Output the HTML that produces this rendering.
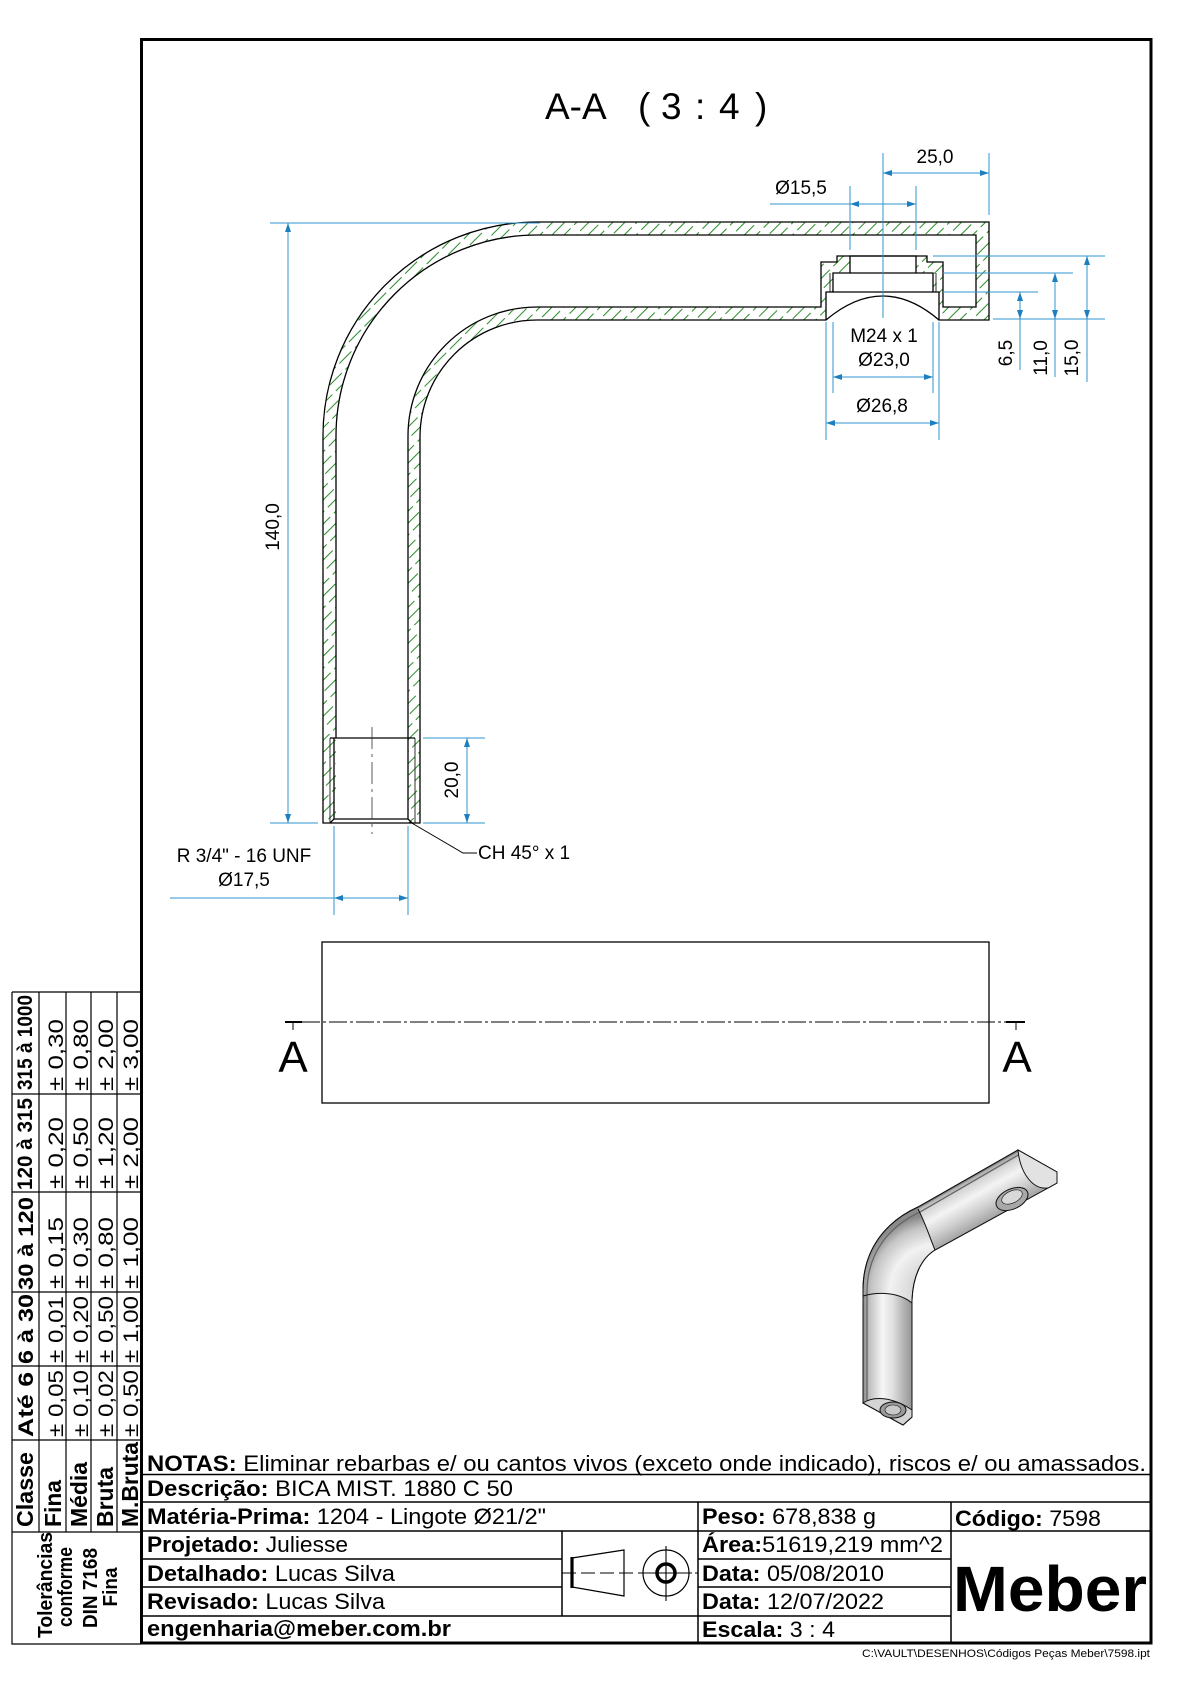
<!DOCTYPE html>
<html><head><meta charset="utf-8">
<style>
html,body{margin:0;padding:0;background:#fff;}
svg{display:block;}
</style></head>
<body>
<svg width="1190" height="1684" viewBox="0 0 1190 1684" xmlns="http://www.w3.org/2000/svg" font-family="'Liberation Sans', Arial, sans-serif">
<defs>
  <pattern id="h" patternUnits="userSpaceOnUse" width="8.5" height="22" patternTransform="rotate(45)">
    <line x1="4" y1="0" x2="4" y2="17" stroke="#2f8f2f" stroke-width="1.05"/>
  </pattern>
  <linearGradient id="gv" x1="0" y1="0" x2="1" y2="0">
    <stop offset="0" stop-color="#8a8a8a"/>
    <stop offset="0.15" stop-color="#c4c4c4"/>
    <stop offset="0.4" stop-color="#f6f6f6"/>
    <stop offset="0.6" stop-color="#e0e0e0"/>
    <stop offset="0.85" stop-color="#b0b0b0"/>
    <stop offset="1" stop-color="#959595"/>
  </linearGradient>
  <linearGradient id="gh" gradientUnits="userSpaceOnUse" x1="968" y1="1178" x2="991" y2="1219">
    <stop offset="0" stop-color="#9a9a9a"/>
    <stop offset="0.15" stop-color="#d4d4d4"/>
    <stop offset="0.4" stop-color="#f4f4f4"/>
    <stop offset="0.7" stop-color="#d0d0d0"/>
    <stop offset="1" stop-color="#a4a4a4"/>
  </linearGradient>
  <radialGradient id="gb" gradientUnits="userSpaceOnUse" cx="935" cy="1290" r="75">
    <stop offset="0" stop-color="#b0b0b0"/>
    <stop offset="0.35" stop-color="#dcdcdc"/>
    <stop offset="0.6" stop-color="#f2f2f2"/>
    <stop offset="0.85" stop-color="#c4c4c4"/>
    <stop offset="1" stop-color="#8a8a8a"/>
  </radialGradient>
</defs>

<!-- Frame -->
<rect x="141.5" y="39.5" width="1009.5" height="1603.5" fill="none" stroke="#000" stroke-width="3"/>

<!-- Title -->
<text y="119" font-size="37"><tspan x="545">A-A</tspan><tspan x="638">(</tspan><tspan x="661">3</tspan><tspan x="695">:</tspan><tspan x="719">4</tspan><tspan x="755">)</tspan></text>

<!-- Section part: hatch -->
<path fill="url(#h)" fill-rule="evenodd" d="M323,823 L323,436 A214,214 0 0 1 537,222 L989,222 L989,320 L939,320 L939,292 L933,292 L933,273 L916,273 L916,256 L850,256 L850,273 L833,273 L833,292 L826,292 L826,320 L537,320 A117,117 0 0 0 420,436 L420,823 Z M336,823 L336,436 A201,201 0 0 1 537,235 L976,235 L976,307 L943,307 L943,262 L927,262 L927,256 L837,256 L837,262 L821,262 L821,307 L537,307 A129,129 0 0 0 408,436 L408,823 Z"/>
<!-- Section part: outline -->
<g fill="none" stroke="#000" stroke-width="1.3">
<path d="M323,823 L323,436 A214,214 0 0 1 537,222 L989,222 L989,320 L939,320 L939,292 L933,292 L933,273 L916,273 L916,256 L850,256 L850,273 L833,273 L833,292 L826,292 L826,320 L537,320 A117,117 0 0 0 420,436 L420,823 Z"/>
<path d="M336,738 L336,436 A201,201 0 0 1 537,235 L976,235 L976,307 L943,307 L943,262 L927,262 L927,256 L837,256 L837,262 L821,262 L821,307 L537,307 A129,129 0 0 0 408,436 L408,738"/>
<path d="M826,320 Q883,272 939,320"/>
<path d="M833,292 H933 M850,273 H916"/>
<path d="M830,273 V292 M936,273 V292" stroke-width="0.8"/>
<path d="M330,738 H415 M334,738 V819 M408,738 V819 M334,819 H408 M330,823 L334,819 M412,823 L408,819"/>
<path d="M330,738 V823 M415,738 V823" stroke-width="0.8"/>
</g>
<line x1="372" y1="727" x2="372" y2="834" stroke="#333" stroke-width="0.8" stroke-dasharray="22 5 3 5"/>

<!-- Dimension lines -->
<g stroke="#2f96cc" stroke-width="1" fill="none">
<path d="M270,223 H540 M270,823 H318 M288,223 V823"/>
<path d="M423,738 H485 M423,823 H485 M467,738 V823"/>
<path d="M170,898 H408 M334,826 V915 M408,826 V915"/>
<path d="M883,173 H989 M989,153 V215 M883,153 V318"/>
<path d="M770,204 H916 M850,186 V250 M916,186 V250"/>
<path d="M933,256 H1105 M943,273 H1073 M943,292 H1038 M993,319 H1105 M1020,292 V370 M1055,273 V377 M1087,256 V382"/>
<path d="M833,377 H933 M833,322 V393 M933,322 V393"/>
<path d="M826,423 H939 M826,322 V440 M939,322 V440"/>
</g>
<g fill="#1b7fc0">
<polygon points="288,223 285,232 291,232"/>
<polygon points="288,823 285,814 291,814"/>
<polygon points="467,738 464,747 470,747"/>
<polygon points="467,823 464,814 470,814"/>
<polygon points="334,898 343,895 343,901"/>
<polygon points="408,898 399,895 399,901"/>
<polygon points="883,173 892,170 892,176"/>
<polygon points="989,173 980,170 980,176"/>
<polygon points="850,204 859,201 859,207"/>
<polygon points="916,204 907,201 907,207"/>
<polygon points="1020,292 1017,301 1023,301"/>
<polygon points="1020,319 1017,310 1023,310"/>
<polygon points="1055,273 1052,282 1058,282"/>
<polygon points="1055,319 1052,310 1058,310"/>
<polygon points="1087,256 1084,265 1090,265"/>
<polygon points="1087,319 1084,310 1090,310"/>
<polygon points="833,377 842,374 842,380"/>
<polygon points="933,377 924,374 924,380"/>
<polygon points="826,423 835,420 835,426"/>
<polygon points="939,423 930,420 930,426"/>
</g>

<!-- Dimension texts -->
<g font-size="19" fill="#000">
<text x="935" y="163" text-anchor="middle">25,0</text>
<text x="801" y="194" text-anchor="middle">Ø15,5</text>
<text x="884" y="342" text-anchor="middle">M24 x 1</text>
<text x="884" y="366" text-anchor="middle">Ø23,0</text>
<text x="882" y="412" text-anchor="middle">Ø26,8</text>
<text x="244" y="862" text-anchor="middle">R 3/4" - 16 UNF</text>
<text x="244" y="886" text-anchor="middle">Ø17,5</text>
<text x="478" y="859">CH 45° x 1</text>
<text transform="translate(279,527) rotate(-90)" text-anchor="middle">140,0</text>
<text transform="translate(458,780) rotate(-90)" text-anchor="middle">20,0</text>
<text transform="translate(1012,353) rotate(-90)" text-anchor="middle">6,5</text>
<text transform="translate(1047,358) rotate(-90)" text-anchor="middle">11,0</text>
<text transform="translate(1078,358) rotate(-90)" text-anchor="middle">15,0</text>
</g>
<path d="M410,822 L463,853 H477" fill="none" stroke="#000" stroke-width="1"/>

<!-- Side view -->
<rect x="322" y="942" width="667" height="161" fill="none" stroke="#000" stroke-width="1.3"/>
<line x1="302" y1="1022" x2="1006" y2="1022" stroke="#000" stroke-width="0.9" stroke-dasharray="18 3 3 3"/>
<path d="M285,1022 H302 M1006,1022 H1025" stroke="#000" stroke-width="2"/>
<path d="M293,1022 V1030 M1016,1022 V1030" stroke="#000" stroke-width="1"/>
<text x="293" y="1072" font-size="44" text-anchor="middle">A</text>
<text x="1017" y="1072" font-size="44" text-anchor="middle">A</text>

<!-- 3D view -->
<g stroke="#111" stroke-width="1">
<path d="M863,1403 L863,1290 C863,1250 885,1222 918,1207 L1018,1150 L1057,1172 L1057,1183 L1048,1188 L935,1250 C922,1258 913,1275 912,1300 L912,1417 L903,1425 Z" fill="url(#gb)"/>
<path d="M863,1296 C880,1291 900,1293 912,1303 L912,1417 L903,1425 L863,1403 Z" fill="url(#gv)" stroke="none"/>
<path d="M918,1209 L1018,1152 L1048,1188 L935,1250 C930,1240 925,1222 918,1209 Z" fill="url(#gh)" stroke="none"/>
<path d="M863,1403 L863,1290 C863,1250 885,1222 918,1207 L1018,1150 L1057,1172 L1057,1183 L1048,1188 L935,1250 C922,1258 913,1275 912,1300 L912,1417 L903,1425 Z" fill="none"/>
<path d="M867,1400 L867,1292 C867,1254 888,1227 920,1212 L1020,1154" fill="none" stroke="#666" stroke-width="1.3"/>
<path d="M1018,1150 L1057,1172 L1057,1183 L1048,1188 C1032,1190 1020,1172 1018,1150 Z" fill="#e2e2e2"/>
<path d="M863,1296 C880,1291 900,1293 912,1303" fill="none"/>
<path d="M918,1209 C925,1222 930,1238 935,1250" fill="none"/>
<path d="M863,1403 L903,1425 L912,1417 L912,1410 C895,1398 875,1395 863,1403 Z" fill="#d4d4d4"/>
<ellipse cx="893" cy="1410" rx="13" ry="8" fill="#9a9a9a"/>
<ellipse cx="893" cy="1410" rx="8" ry="5" fill="#c8c8c8" stroke-width="0.6"/>
<ellipse cx="1012" cy="1199" rx="17" ry="10" transform="rotate(-25 1012 1199)" fill="#a8a8a8"/>
<ellipse cx="1012" cy="1197" rx="11" ry="6" transform="rotate(-25 1012 1197)" fill="#d8d8d8" stroke-width="0.6"/>
</g>

<!-- Tolerance table -->
<g stroke="#000" stroke-width="1.2" fill="none">
<path d="M12,992 V1644 H141 M39,992 V1532 M66,992 V1532 M91,992 V1532 M117,992 V1532"/>
<path d="M12,992 H141 M12,1094 H141 M12,1192 H141 M12,1292 H141 M12,1366 H141 M12,1440 H141 M12,1532 H141"/>
</g>
<g font-weight="bold" font-size="21" fill="#000" text-anchor="middle">
<text transform="translate(32,1042.5) rotate(-90)" textLength="95" lengthAdjust="spacingAndGlyphs">315 à 1000</text>
<text transform="translate(32,1144) rotate(-90)" textLength="92" lengthAdjust="spacingAndGlyphs">120 à 315</text>
<text transform="translate(33,1243.5) rotate(-90)" textLength="93" lengthAdjust="spacingAndGlyphs">30 à 120</text>
<text transform="translate(33,1329) rotate(-90)" textLength="70" lengthAdjust="spacingAndGlyphs">6 à 30</text>
<text transform="translate(33,1404.5) rotate(-90)" textLength="65" lengthAdjust="spacingAndGlyphs">Até 6</text>
</g>
<g font-weight="bold" font-size="23" fill="#000">
<text transform="translate(33,1527) rotate(-90)" textLength="75" lengthAdjust="spacingAndGlyphs">Classe</text>
<text transform="translate(61,1527) rotate(-90)" textLength="47" lengthAdjust="spacingAndGlyphs">Fina</text>
<text transform="translate(87,1527) rotate(-90)" textLength="65" lengthAdjust="spacingAndGlyphs">Média</text>
<text transform="translate(113,1527) rotate(-90)" textLength="60" lengthAdjust="spacingAndGlyphs">Bruta</text>
<text transform="translate(138,1527) rotate(-90)" textLength="85" lengthAdjust="spacingAndGlyphs">M.Bruta</text>
</g>
<g font-size="21" fill="#000">
<text transform="translate(63,1091) rotate(-90)" textLength="72" lengthAdjust="spacingAndGlyphs">± 0,30</text>
<text transform="translate(88,1091) rotate(-90)" textLength="72" lengthAdjust="spacingAndGlyphs">± 0,80</text>
<text transform="translate(113,1091) rotate(-90)" textLength="72" lengthAdjust="spacingAndGlyphs">± 2,00</text>
<text transform="translate(138,1091) rotate(-90)" textLength="72" lengthAdjust="spacingAndGlyphs">± 3,00</text>
<text transform="translate(63,1189) rotate(-90)" textLength="72" lengthAdjust="spacingAndGlyphs">± 0,20</text>
<text transform="translate(88,1189) rotate(-90)" textLength="72" lengthAdjust="spacingAndGlyphs">± 0,50</text>
<text transform="translate(113,1189) rotate(-90)" textLength="72" lengthAdjust="spacingAndGlyphs">± 1,20</text>
<text transform="translate(138,1189) rotate(-90)" textLength="72" lengthAdjust="spacingAndGlyphs">± 2,00</text>
<text transform="translate(63,1289) rotate(-90)" textLength="72" lengthAdjust="spacingAndGlyphs">± 0,15</text>
<text transform="translate(88,1289) rotate(-90)" textLength="72" lengthAdjust="spacingAndGlyphs">± 0,30</text>
<text transform="translate(113,1289) rotate(-90)" textLength="72" lengthAdjust="spacingAndGlyphs">± 0,80</text>
<text transform="translate(138,1289) rotate(-90)" textLength="72" lengthAdjust="spacingAndGlyphs">± 1,00</text>
<text transform="translate(63,1363) rotate(-90)" textLength="67" lengthAdjust="spacingAndGlyphs">± 0,01</text>
<text transform="translate(88,1363) rotate(-90)" textLength="67" lengthAdjust="spacingAndGlyphs">± 0,20</text>
<text transform="translate(113,1363) rotate(-90)" textLength="67" lengthAdjust="spacingAndGlyphs">± 0,50</text>
<text transform="translate(138,1363) rotate(-90)" textLength="67" lengthAdjust="spacingAndGlyphs">± 1,00</text>
<text transform="translate(63,1437) rotate(-90)" textLength="67" lengthAdjust="spacingAndGlyphs">± 0,05</text>
<text transform="translate(88,1437) rotate(-90)" textLength="67" lengthAdjust="spacingAndGlyphs">± 0,10</text>
<text transform="translate(113,1437) rotate(-90)" textLength="67" lengthAdjust="spacingAndGlyphs">± 0,02</text>
<text transform="translate(138,1437) rotate(-90)" textLength="67" lengthAdjust="spacingAndGlyphs">± 0,50</text>
</g>
<g font-weight="bold" font-size="20" fill="#000" text-anchor="middle">
<text transform="translate(52,1585) rotate(-90)" textLength="106" lengthAdjust="spacingAndGlyphs">Tolerâncias</text>
<text transform="translate(72,1587) rotate(-90)" textLength="80" lengthAdjust="spacingAndGlyphs">conforme</text>
<text transform="translate(97,1588) rotate(-90)" textLength="80" lengthAdjust="spacingAndGlyphs">DIN 7168</text>
<text transform="translate(117,1587) rotate(-90)" textLength="39" lengthAdjust="spacingAndGlyphs">Fina</text>
</g>

<!-- Title block lines -->
<g stroke="#000" stroke-width="1.5" fill="none">
<path d="M141,1474.5 H1151 M141,1502 H1151 M141,1531 H1151"/>
<path d="M141,1559 H562 M698,1559 H951 M141,1587 H562 M698,1587 H951 M141,1616 H951"/>
<path d="M698,1502 V1643 M951,1502 V1643 M562,1531 V1616"/>
</g>

<!-- Projection symbol -->
<g stroke="#000" fill="none">
<path d="M572,1558 L624,1550 L624,1596 L572,1587 Z" stroke-width="1.2"/>
<path d="M572,1557 V1588" stroke-width="3.2"/>
<path d="M562,1573 H698" stroke-width="1.1" stroke-dasharray="14 5"/>
<path d="M640,1573 H692 M666,1546 V1601" stroke-width="1.1"/>
<circle cx="666" cy="1573" r="23" stroke-width="1.2"/>
<circle cx="666" cy="1573" r="9" stroke-width="3.5"/>
</g>

<!-- Title block texts -->
<g font-size="22" fill="#000">
<text x="147" y="1471" textLength="999" lengthAdjust="spacingAndGlyphs"><tspan font-weight="bold">NOTAS:</tspan> Eliminar rebarbas e/ ou cantos vivos (exceto onde indicado), riscos e/ ou amassados.</text>
<text x="147" y="1496" textLength="366" lengthAdjust="spacingAndGlyphs"><tspan font-weight="bold">Descrição:</tspan> BICA MIST. 1880 C 50</text>
<text x="147" y="1524" textLength="399" lengthAdjust="spacingAndGlyphs"><tspan font-weight="bold">Matéria-Prima:</tspan> 1204 - Lingote Ø21/2"</text>
<text x="147" y="1552" textLength="201" lengthAdjust="spacingAndGlyphs"><tspan font-weight="bold">Projetado:</tspan> Juliesse</text>
<text x="147" y="1581" textLength="248" lengthAdjust="spacingAndGlyphs"><tspan font-weight="bold">Detalhado:</tspan> Lucas Silva</text>
<text x="147" y="1609" textLength="238" lengthAdjust="spacingAndGlyphs"><tspan font-weight="bold">Revisado:</tspan> Lucas Silva</text>
<text x="147" y="1636" textLength="304" lengthAdjust="spacingAndGlyphs" font-weight="bold">engenharia@meber.com.br</text>
<text x="702" y="1524" textLength="174" lengthAdjust="spacingAndGlyphs"><tspan font-weight="bold">Peso:</tspan> 678,838 g</text>
<text x="955" y="1526" textLength="146" lengthAdjust="spacingAndGlyphs"><tspan font-weight="bold">Código:</tspan> 7598</text>
<text x="702" y="1552" textLength="241" lengthAdjust="spacingAndGlyphs"><tspan font-weight="bold">Área:</tspan>51619,219 mm^2</text>
<text x="702" y="1581" textLength="182" lengthAdjust="spacingAndGlyphs"><tspan font-weight="bold">Data:</tspan> 05/08/2010</text>
<text x="702" y="1609" textLength="182" lengthAdjust="spacingAndGlyphs"><tspan font-weight="bold">Data:</tspan> 12/07/2022</text>
<text x="702" y="1637" textLength="133" lengthAdjust="spacingAndGlyphs"><tspan font-weight="bold">Escala:</tspan> 3 : 4</text>
</g>
<text x="953" y="1611" font-size="64" font-weight="bold" textLength="194" lengthAdjust="spacingAndGlyphs">Meber</text>
<text x="1150" y="1657" font-size="11" text-anchor="end" textLength="288" lengthAdjust="spacingAndGlyphs">C:\VAULT\DESENHOS\Códigos Peças Meber\7598.ipt</text>
</svg>
</body></html>
